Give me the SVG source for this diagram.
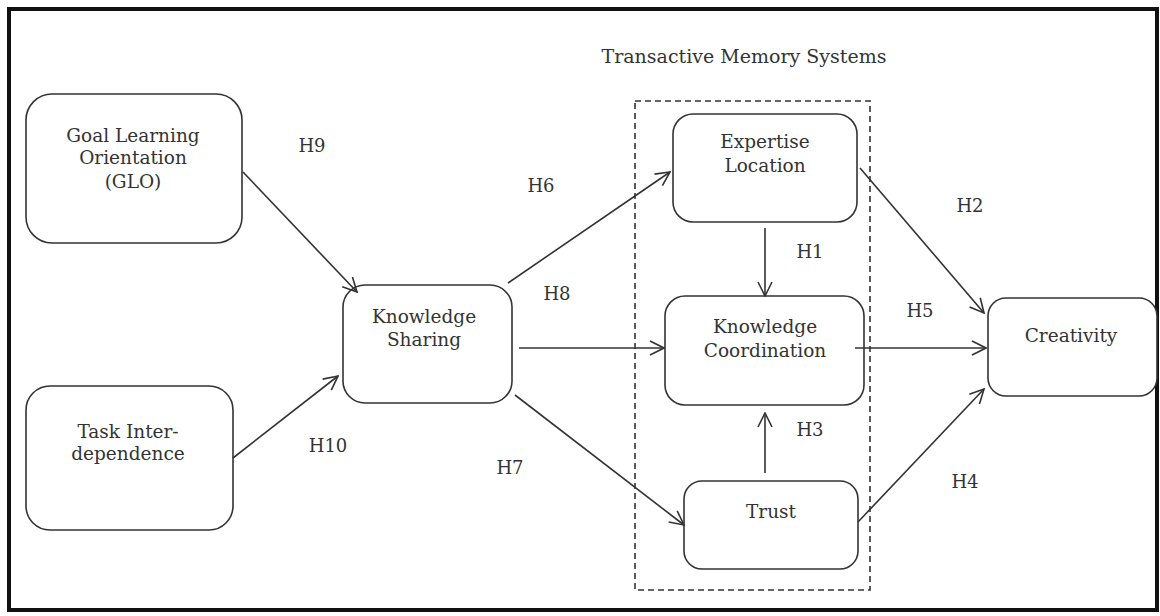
<svg xmlns="http://www.w3.org/2000/svg" width="1160" height="616" viewBox="0 0 1160 616">
  <style>
    .node rect { fill: #fff; stroke: #333; stroke-width: 1.6; }
    .node text, .lbl { font-family: "DejaVu Serif", "Liberation Serif", serif; font-size: 18.5px; fill: #333; text-anchor: middle; }
    .lbl { font-size: 18px; }
    .conn line { stroke: #333; stroke-width: 1.6; marker-end: url(#arr); }
  </style>
  <defs>
    <marker id="arr" viewBox="0 0 16 16" refX="15" refY="8" markerWidth="16" markerHeight="16" markerUnits="userSpaceOnUse" orient="auto">
      <path d="M1,1 L15,8 L1,15" fill="none" stroke="#333" stroke-width="1.6"/>
    </marker>
  </defs>
  <rect width="1160" height="616" fill="#fff"/>
  <!-- outer frame -->
  <rect x="9" y="9" width="1148" height="601" fill="none" stroke="#111" stroke-width="4"/>

  <!-- Transactive Memory Systems group -->
  <text class="lbl" x="744" y="63" style="font-size:19px">Transactive Memory Systems</text>
  <rect x="635" y="101" width="235" height="489" fill="none" stroke="#333" stroke-width="1.6" stroke-dasharray="6,4"/>

  <g id="glo" class="node">
    <rect x="26" y="94" width="216" height="149" rx="26"/>
    <text x="133" y="142">Goal Learning</text>
    <text x="133" y="164">Orientation</text>
    <text x="133" y="188">(GLO)</text>
  </g>
  <g id="task-interdependence" class="node">
    <rect x="26" y="386" width="207" height="144" rx="24"/>
    <text x="128" y="438">Task Inter-</text>
    <text x="128" y="460">dependence</text>
  </g>
  <g id="knowledge-sharing" class="node">
    <rect x="343" y="285" width="169" height="118" rx="22"/>
    <text x="424" y="323">Knowledge</text>
    <text x="424" y="346">Sharing</text>
  </g>
  <g id="expertise-location" class="node">
    <rect x="673" y="114" width="184" height="108" rx="20"/>
    <text x="765" y="148">Expertise</text>
    <text x="765" y="172">Location</text>
  </g>
  <g id="knowledge-coordination" class="node">
    <rect x="665" y="296" width="199" height="109" rx="20"/>
    <text x="765" y="333">Knowledge</text>
    <text x="765" y="357">Coordination</text>
  </g>
  <g id="trust" class="node">
    <rect x="684" y="481" width="174" height="88" rx="18"/>
    <text x="771" y="518">Trust</text>
  </g>
  <g id="creativity" class="node">
    <rect x="988" y="298" width="169" height="98" rx="18"/>
    <text x="1071" y="342">Creativity</text>
  </g>

  <g id="connectors" class="conn">
    <line x1="243" y1="172" x2="357" y2="292"/>
    <line x1="233" y1="458" x2="338" y2="376"/>
    <line x1="508" y1="283" x2="670" y2="172"/>
    <line x1="519" y1="348" x2="664" y2="348"/>
    <line x1="515" y1="395" x2="684" y2="525"/>
    <line x1="765" y1="228" x2="765" y2="296"/>
    <line x1="765" y1="473" x2="765" y2="413"/>
    <line x1="860" y1="168" x2="984" y2="313"/>
    <line x1="855" y1="348" x2="986" y2="348"/>
    <line x1="858" y1="522" x2="984" y2="389"/>
  </g>

  <g id="labels">
    <text class="lbl" x="312" y="152">H9</text>
    <text class="lbl" x="541" y="192">H6</text>
    <text class="lbl" x="557" y="300">H8</text>
    <text class="lbl" x="328" y="452">H10</text>
    <text class="lbl" x="510" y="474">H7</text>
    <text class="lbl" x="810" y="258">H1</text>
    <text class="lbl" x="810" y="436">H3</text>
    <text class="lbl" x="970" y="212">H2</text>
    <text class="lbl" x="920" y="317">H5</text>
    <text class="lbl" x="965" y="488">H4</text>
  </g>
</svg>
